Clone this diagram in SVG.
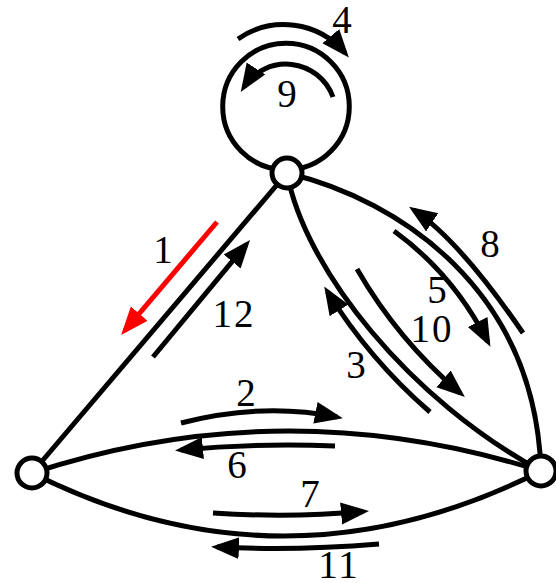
<svg xmlns="http://www.w3.org/2000/svg" width="556" height="583" viewBox="0 0 556 583">
<style>
.e{fill:none;stroke:#000;stroke-width:5}
.a{fill:none;stroke:#000;stroke-width:5;marker-end:url(#ah)}
.r{fill:none;stroke:#f00;stroke-width:5;marker-end:url(#ahr)}
.n{fill:#fff;stroke:#000;stroke-width:5}
text{font-family:"Liberation Serif","Times New Roman",serif;font-size:39px;fill:#000;text-anchor:middle;letter-spacing:2px}
</style>
<defs>
<marker id="ah" markerUnits="userSpaceOnUse" markerWidth="32" markerHeight="26" viewBox="0 -13 32 26" refX="22" refY="0" orient="auto"><path d="M0,-11 L28,0 L0,11 z" fill="#000"/></marker>
<marker id="ahr" markerUnits="userSpaceOnUse" markerWidth="32" markerHeight="26" viewBox="0 -13 32 26" refX="22" refY="0" orient="auto"><path d="M0,-11 L28,0 L0,11 z" fill="#f00"/></marker>
</defs>
<g id="edges">
<circle class="e" cx="286" cy="106.5" r="63.3"/>
<path class="e" d="M32,473 L287,173"/>
<path class="e" d="M32,473 Q285,390 541,471"/>
<path class="e" d="M32,473 Q285,600 541,471"/>
<path class="e" d="M287,173 C400,200 535,290 541,471"/>
<path class="e" d="M287,173 C305,270 410,400 541,471"/>
</g>
<g id="arrows">
<path class="r" d="M217,222 L125,330.4"/>
<path class="a" d="M153,357 L246.2,244.6"/>
<path class="a" d="M238,39 A80,80 0 0 1 345,53"/>
<path class="a" d="M333,97 A50,50 0 0 0 244,87"/>
<path class="a" d="M181,423 Q262,402 337,417"/>
<path class="a" d="M335,446 Q255,443 181,450"/>
<path class="a" d="M213,513 Q290,518 363,511.5"/>
<path class="a" d="M379,544 Q295,551 217,547"/>
<path class="a" d="M523,333 Q460,241 414,210"/>
<path class="a" d="M394,231 Q453,273.7 487.7,341.5"/>
<path class="a" d="M357,269 Q397.9,340 460.3,393.2"/>
<path class="a" d="M430,412 Q369.5,359.5 327.4,291.7"/>
</g>
<g id="node-top"><circle class="n" cx="287" cy="173" r="15"/></g>
<g id="node-left"><circle class="n" cx="32" cy="473" r="15"/></g>
<g id="node-right"><circle class="n" cx="541" cy="471" r="15"/></g>
<g id="labels">
<text x="343" y="33">4</text>
<text x="288" y="107">9</text>
<text x="164" y="263">1</text>
<text x="234" y="327">12</text>
<text x="247" y="406">2</text>
<text x="238" y="478">6</text>
<text x="311" y="507">7</text>
<text x="339" y="578">11</text>
<text x="491" y="257">8</text>
<text x="438" y="303">5</text>
<text x="432" y="342">10</text>
<text x="357" y="378">3</text>
</g>
</svg>
